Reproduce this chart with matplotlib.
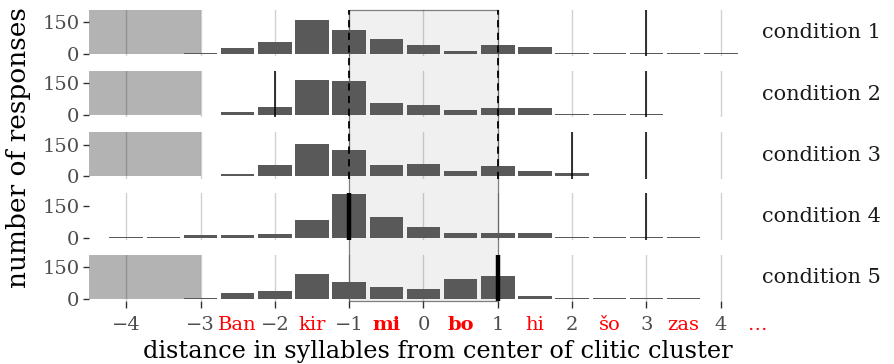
import numpy as np
import matplotlib
matplotlib.use('Agg')
import matplotlib.pyplot as plt
from matplotlib.patches import Rectangle
from matplotlib.transforms import blended_transform_factory

plt.rcParams['font.family'] = ['DejaVu Serif']

# bar positions (syllables from center of clitic cluster)
positions = [-4, -3.5, -3, -2.5, -2, -1.5, -1, -0.5, 0, 0.5, 1, 1.5, 2, 2.5, 3, 3.5, 4]
nan = np.nan
cond1 = [nan, nan, 3, 26, 55, 161, 113, 69, 42, 16, 40, 31, 5, 3, 3, 3, 3]
cond2 = [nan, nan, nan, 15, 38, 165, 162, 60, 50, 23, 32, 32, 4, 4, 7, nan, nan]
cond3 = [nan, nan, 3, 12, 54, 152, 124, 54, 59, 25, 48, 28, 15, 3, 3, 3, nan]
cond4 = [3, 6, 11, 11, 20, 82, 206, 100, 49, 22, 25, 22, 3, 3, 3, 3, nan]
cond5 = [nan, nan, 3, 28, 37, 117, 80, 56, 46, 97, 108, 14, 4, 3, 4, 4, nan]
conditions = [cond1, cond2, cond3, cond4, cond5]
cond_names = ['condition 1', 'condition 2', 'condition 3', 'condition 4', 'condition 5']

# marker lines per condition
thin_lines = [[3], [-2, 3], [2, 3], [3], []]
thick_lines = [[], [], [], [-1], [1]]
# conditions with the shaded (excluded) region left of -3
shaded = [True, True, True, False, True]

int_ticks = [-4, -3, -2, -1, 0, 1, 2, 3, 4]
int_labels = ['−4', '−3', '−2', '−1', '0', '1', '2', '3', '4']
syl_ticks = [-2.5, -1.5, -0.5, 0.5, 1.5, 2.5, 3.5, 4.5]
syl_labels = ['Ban', 'kir', 'mi', 'bo', 'hi', 'šo', 'zas', '…']
syl_bold = ['mi', 'bo']

W, H = 894, 364
fig = plt.figure(figsize=(W / 100, H / 100), dpi=100)
left, right = 89, 758
top0, step, ph = 9.5, 61.3, 46.5

axes = []
for i, vals in enumerate(conditions):
    top = top0 + step * i
    ax = fig.add_axes([left / W, 1 - (top + ph) / H, (right - left) / W, ph / H])
    ax.set_facecolor('none')
    ax.set_xlim(-4.5, 4.5)
    ax.set_ylim(-10, 210)
    for s in ax.spines.values():
        s.set_visible(False)
    if shaded[i]:
        ax.add_patch(Rectangle((-4.5, 0), 1.5, 250, facecolor='#b3b3b3',
                               edgecolor='none', zorder=0.5))
    for x in int_ticks:
        ax.axvline(x, color='black', alpha=0.18, lw=1.0, zorder=1)
    ax.bar(positions, vals, width=0.45, color='#595959', zorder=2)
    for x in thin_lines[i]:
        ax.axvline(x, color='black', lw=1.1, zorder=3)
    for x in thick_lines[i]:
        ax.axvline(x, color='black', lw=3.2, zorder=3)
    ax.set_yticks([0, 150])
    ax.set_yticklabels(['0', '150'])
    ax.tick_params(axis='y', length=4, width=1, color='#333333', labelcolor='#4d4d4d',
                   labelsize=14, pad=3)
    ax.text(762 / W, 1 - (top + ph / 2) / H, cond_names[i], transform=fig.transFigure,
            ha='left', va='center', fontsize=15, color='#1a1a1a')
    if i < 4:
        ax.set_xticks([])
    axes.append(ax)

ax5 = axes[-1]
ax5.set_xticks(int_ticks)
ax5.set_xticklabels(int_labels)
ax5.set_xticks(syl_ticks, minor=True)
ax5.set_xticklabels(syl_labels, minor=True)
ax5.tick_params(axis='x', which='major', length=5, width=1, color='#333333',
                labelcolor='#4d4d4d', labelsize=14, pad=6)
ax5.tick_params(axis='x', which='minor', length=0, labelcolor='red', labelsize=14, pad=11)
for lab in ax5.get_xticklabels(minor=True):
    if lab.get_text() in syl_bold:
        lab.set_fontweight('bold')

# shaded clitic-cluster region spanning all panels
tr = blended_transform_factory(ax5.transData, fig.transFigure)
y_top = 1 - top0 / H
y_bot = 1 - (top0 + step * 4 + ph) / H
fig.add_artist(Rectangle((-1, y_bot), 2, y_top - y_bot, transform=tr,
                         facecolor='#f0f0f0', edgecolor='#7f7f7f', lw=0.9, zorder=-1))
y_dash_bot = 1 - (top0 + step * 2 + ph) / H
for x in [-1, 1]:
    fig.add_artist(plt.Line2D([x, x], [y_dash_bot, y_top], transform=tr, color='black',
                              lw=1.3, ls=(0, (4, 3)), zorder=5))

fig.text(19 / W, 1 - 148 / H, 'number of responses', rotation=90, ha='center',
         va='center', fontsize=19, color='black')
fig.text(437.5 / W, 1 - 358 / H, 'distance in syllables from center of clitic cluster',
         ha='center', va='baseline', fontsize=17.3, color='black')

fig.savefig('out.png', dpi=100)
